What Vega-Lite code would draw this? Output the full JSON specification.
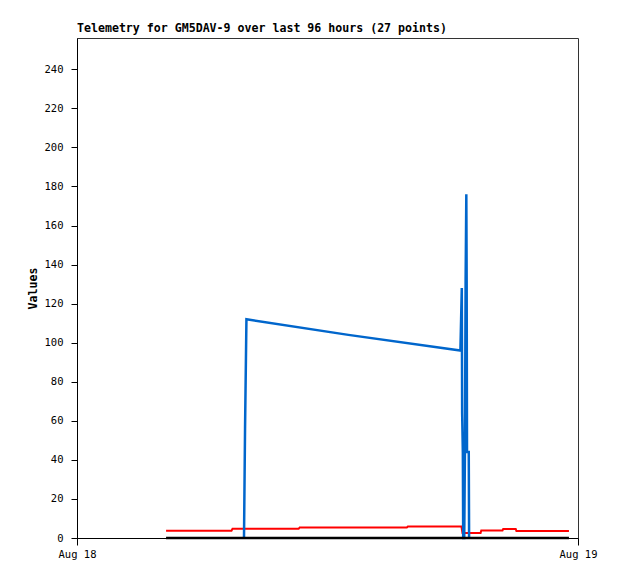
{
  "$schema": "https://vega.github.io/schema/vega-lite/v6.json",
  "width": 501,
  "height": 500,
  "autosize": {"type": "none"},
  "padding": {"left": 77, "top": 38, "right": 40, "bottom": 41},
  "background": "white",
  "title": {
    "text": "Telemetry for GM5DAV-9 over last 96 hours (27 points)",
    "anchor": "start",
    "frame": "group",
    "font": "DejaVu Sans Mono",
    "fontSize": 11.6,
    "fontWeight": "bold",
    "color": "black",
    "offset": 3
  },
  "data": {
    "values": [
      {"s": "red", "t": "2023-08-18T04:16:00Z", "v": 3.7},
      {"s": "red", "t": "2023-08-18T07:24:00Z", "v": 3.7},
      {"s": "red", "t": "2023-08-18T07:27:00Z", "v": 4.7},
      {"s": "red", "t": "2023-08-18T10:37:00Z", "v": 4.7},
      {"s": "red", "t": "2023-08-18T10:40:00Z", "v": 5.4},
      {"s": "red", "t": "2023-08-18T15:48:00Z", "v": 5.4},
      {"s": "red", "t": "2023-08-18T15:51:00Z", "v": 5.9},
      {"s": "red", "t": "2023-08-18T18:25:00Z", "v": 5.9},
      {"s": "red", "t": "2023-08-18T18:28:00Z", "v": 2.6},
      {"s": "red", "t": "2023-08-18T19:20:00Z", "v": 2.6},
      {"s": "red", "t": "2023-08-18T19:22:00Z", "v": 3.9},
      {"s": "red", "t": "2023-08-18T20:23:00Z", "v": 3.9},
      {"s": "red", "t": "2023-08-18T20:25:00Z", "v": 4.6},
      {"s": "red", "t": "2023-08-18T21:01:00Z", "v": 4.6},
      {"s": "red", "t": "2023-08-18T21:03:00Z", "v": 3.6},
      {"s": "red", "t": "2023-08-18T23:34:00Z", "v": 3.6},
      {"s": "blue", "t": "2023-08-18T08:00:00Z", "v": 0},
      {"s": "blue", "t": "2023-08-18T08:03:00Z", "v": 56},
      {"s": "blue", "t": "2023-08-18T08:07:00Z", "v": 112},
      {"s": "blue", "t": "2023-08-18T13:00:00Z", "v": 104},
      {"s": "blue", "t": "2023-08-18T18:22:00Z", "v": 96},
      {"s": "blue", "t": "2023-08-18T18:26:00Z", "v": 128},
      {"s": "blue", "t": "2023-08-18T18:27:00Z", "v": 64},
      {"s": "blue", "t": "2023-08-18T18:29:00Z", "v": 44},
      {"s": "blue", "t": "2023-08-18T18:30:00Z", "v": 0},
      {"s": "blue", "t": "2023-08-18T18:33:00Z", "v": 0},
      {"s": "blue", "t": "2023-08-18T18:35:00Z", "v": 44},
      {"s": "blue", "t": "2023-08-18T18:37:00Z", "v": 132},
      {"s": "blue", "t": "2023-08-18T18:39:00Z", "v": 176},
      {"s": "blue", "t": "2023-08-18T18:40:00Z", "v": 132},
      {"s": "blue", "t": "2023-08-18T18:41:00Z", "v": 44},
      {"s": "blue", "t": "2023-08-18T18:46:00Z", "v": 44},
      {"s": "blue", "t": "2023-08-18T18:47:00Z", "v": 0},
      {"s": "black", "t": "2023-08-18T04:16:00Z", "v": 0},
      {"s": "black", "t": "2023-08-18T23:34:00Z", "v": 0}
    ]
  },
  "encoding": {
    "x": {
      "field": "t",
      "type": "temporal",
      "scale": {"type": "utc", "domain": [1692316800000, 1692403200000], "nice": false},
      "axis": {
        "title": null,
        "values": [1692316800000, 1692403200000],
        "labelExpr": "utcFormat(datum.value, '%b %d')",
        "grid": false,
        "tickSize": 7,
        "labelPadding": 4,
        "labelFont": "DejaVu Sans Mono",
        "labelFontSize": 10.5,
        "labelColor": "black",
        "labelAlign": "center",
        "labelFlush": false,
        "domainColor": "black",
        "tickColor": "black"
      }
    },
    "y": {
      "field": "v",
      "type": "quantitative",
      "scale": {"domain": [0, 256], "nice": false, "zero": true},
      "axis": {
        "title": "Values",
        "values": [0, 20, 40, 60, 80, 100, 120, 140, 160, 180, 200, 220, 240],
        "grid": false,
        "tickSize": 6,
        "labelPadding": 8,
        "labelFont": "DejaVu Sans Mono",
        "labelFontSize": 10.5,
        "labelColor": "black",
        "titleFont": "DejaVu Sans Mono",
        "titleFontSize": 11.6,
        "titleFontWeight": "bold",
        "titleColor": "black",
        "titlePadding": 6,
        "domainColor": "black",
        "tickColor": "black"
      }
    }
  },
  "layer": [
    {
      "transform": [{"filter": "datum.s === 'red'"}],
      "mark": {"type": "line", "color": "#ff0000", "strokeWidth": 2, "interpolate": "linear"}
    },
    {
      "transform": [{"filter": "datum.s === 'blue'"}],
      "mark": {"type": "line", "color": "#0066cc", "strokeWidth": 2.5, "interpolate": "linear"}
    },
    {
      "transform": [{"filter": "datum.s === 'black'"}],
      "mark": {"type": "line", "color": "#000000", "strokeWidth": 2.5, "interpolate": "linear"}
    }
  ],
  "config": {
    "view": {"stroke": "#333333", "strokeWidth": 1}
  }
}
